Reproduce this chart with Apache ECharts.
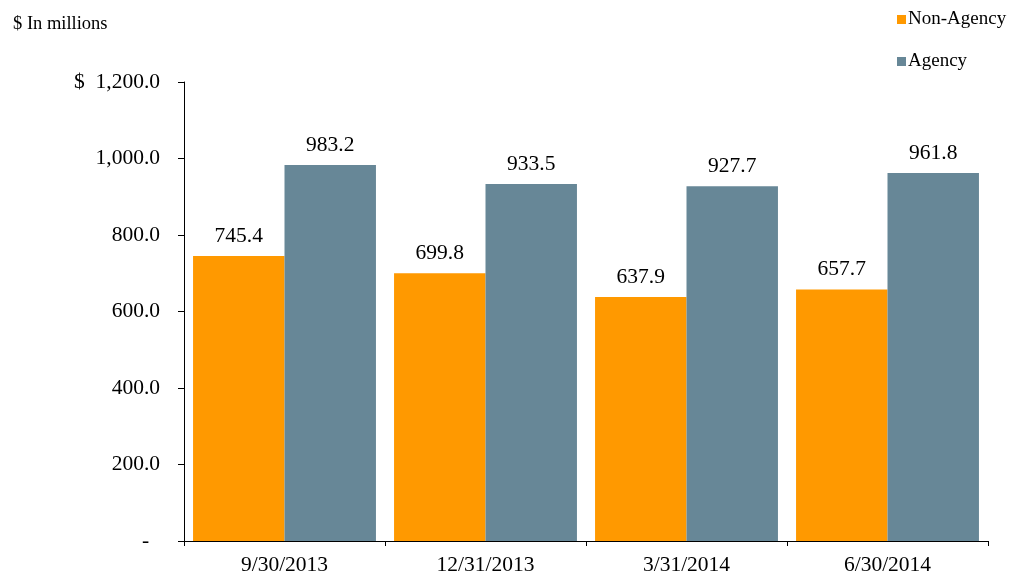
<!DOCTYPE html>
<html>
<head>
<meta charset="utf-8">
<script src="https://cdn.jsdelivr.net/npm/echarts@6/dist/echarts.min.js"></script>
<style>
  html, body { margin: 0; padding: 0; background: #fff; }
  #chart { width: 1014px; height: 576px; }
</style>
</head>
<body>
<div id="chart"></div>
<script>
var categories = ['9/30/2013', '12/31/2013', '3/31/2014', '6/30/2014'];
var nonAgency = [745.4, 699.8, 637.9, 657.7];
var agency = [983.2, 933.5, 927.7, 961.8];

var font = 'Liberation Serif, Times New Roman, serif';
var fs = 21.5;

var chart = echarts.init(document.getElementById('chart'));

// y axis labels in accounting style
function fmtY(v) {
  if (v === 0) return '-  ';
  var s = v.toLocaleString('en-US', { minimumFractionDigits: 1, maximumFractionDigits: 1 });
  if (v === 1200) return '$  ' + s;
  return s;
}

var labelOpt = {
  show: true,
  position: 'top',
  distance: 9,
  color: '#000',
  fontSize: fs,
  fontFamily: font,
  formatter: function (p) { return p.value.toFixed(1); }
};

chart.setOption({
  animation: false,
  textStyle: { fontFamily: font },
  graphic: [{
    type: 'text',
    left: 13,
    top: 15,
    style: { text: '$ In millions', font: '18.5px ' + font, fill: '#000' }
  }],
  legend: {
    orient: 'vertical',
    left: 892,
    top: 5,
    itemWidth: 9,
    itemHeight: 9,
    itemGap: 23,
    icon: 'rect',
    textStyle: { fontSize: 19, color: '#000', fontFamily: font, padding: [0, 0, 0, -3] },
    data: ['Non-Agency', 'Agency']
  },
  grid: { left: 184, right: 26, top: 82, bottom: 33 },
  xAxis: {
    type: 'category',
    data: categories,
    axisLine: { lineStyle: { color: '#000', width: 1 } },
    axisTick: { show: true, length: 5, lineStyle: { color: '#000' } },
    axisLabel: { color: '#000', fontSize: fs, fontFamily: font, margin: 13 }
  },
  yAxis: {
    type: 'value',
    min: 0,
    max: 1200,
    interval: 200,
    splitLine: { show: false },
    axisLine: { show: true, lineStyle: { color: '#000', width: 1 } },
    axisTick: { show: true, length: 6, lineStyle: { color: '#000' } },
    axisLabel: { color: '#000', fontSize: fs, fontFamily: font, margin: 24, formatter: fmtY }
  },
  series: [
    {
      name: 'Non-Agency',
      type: 'bar',
      data: nonAgency,
      barGap: '0%',
      barCategoryGap: '9%',
      itemStyle: { color: '#FF9900' },
      label: labelOpt
    },
    {
      name: 'Agency',
      type: 'bar',
      data: agency,
      barGap: '0%',
      barCategoryGap: '9%',
      itemStyle: { color: '#678797' },
      label: labelOpt
    }
  ]
});
</script>
</body>
</html>
